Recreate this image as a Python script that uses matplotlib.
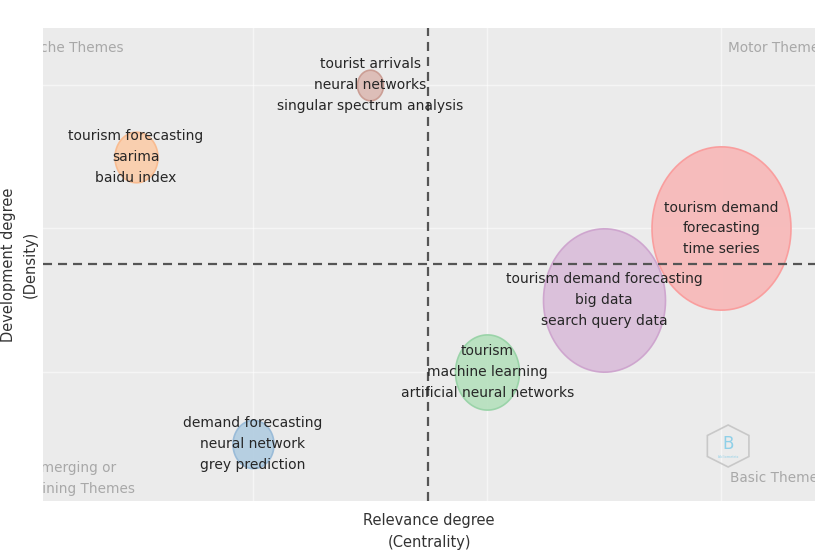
import matplotlib
matplotlib.use("Agg")
import matplotlib.pyplot as plt
from matplotlib.path import Path
from matplotlib.patches import RegularPolygon
from matplotlib.transforms import Affine2D
import numpy as np

plt.rcParams['font.family'] = ['DejaVu Sans']
plt.rcParams['lines.scale_dashes'] = False

# ---- data ----
clusters = [
    "tourism demand\nforecasting\ntime series",
    "tourism demand forecasting\nbig data\nsearch query data",
    "tourism\nmachine learning\nartificial neural networks",
    "demand forecasting\nneural network\ngrey prediction",
    "tourism forecasting\nsarima\nbaidu index",
    "tourist arrivals\nneural networks\nsingular spectrum analysis",
]
centrality = [3.0, 2.5, 2.0, 1.0, 0.5, 1.5]
density = [2.0, 1.5, 1.0, 0.5, 2.5, 3.0]
bubble_width = [139, 122, 64, 41, 43, 26]   # relative bubble size
fill_colors = ["#f8b8b8", "#dabeda", "#b6e1be", "#b2cde1", "#fbcdaa", "#dcbab4"]
edge_colors = ["#fa9a9a", "#cda2cd", "#96d2a5", "#96b9d7", "#f9b98c", "#c99a90"]
centrality_mean = 1.748
density_mean = 1.749
quadrants = ["Niche Themes", "Motor Themes", "Emerging or\nDeclining Themes", "Basic Themes"]

# ellipse marker (slightly taller than wide)
aspect = 1.175
t = np.linspace(0, 2 * np.pi, 100)
verts = np.column_stack([np.cos(t) / aspect, np.sin(t)])
ell = Path(verts, closed=True)

fig = plt.figure(figsize=(8.22, 5.51), dpi=100)
ax = fig.add_axes([43 / 822, 1 - 501 / 551, 772 / 822, 473 / 551])
ax.set_facecolor("#ebebeb")
ax.set_xlim(0.103, 3.40)
ax.set_ylim(0.101, 3.397)
ax.set_xticks([1, 2, 3])
ax.set_yticks([1, 2, 3])
ax.grid(True, color="white", lw=1.0, alpha=0.55)
ax.set_axisbelow(True)
ax.tick_params(length=0, labelbottom=False, labelleft=False)
for s in ax.spines.values():
    s.set_visible(False)

px2pt = 72 / 100
for x, y, w, fc, ec in zip(centrality, density, bubble_width, fill_colors, edge_colors):
    h = w * aspect * px2pt
    ax.scatter([x], [y], s=h ** 2, marker=ell, facecolor=fc, edgecolor=ec,
               linewidth=1.2, alpha=0.92, zorder=2)

ax.axvline(centrality_mean, color="#555555", lw=1.6, dashes=(6.5, 4.3), zorder=3)
ax.axhline(density_mean, color="#555555", lw=1.6, dashes=(6.5, 4.3), zorder=3)

for x, y, lab in zip(centrality, density, clusters):
    ax.text(x, y, lab, ha="center", va="center", multialignment="center",
            fontsize=10.0, color="#262626", linespacing=1.62, zorder=4)

qc = "#a8a8a8"
qfs = 9.8
ax.text(-0.022, 0.958, quadrants[0], transform=ax.transAxes, ha="left", va="center",
        fontsize=qfs, color=qc, clip_on=True)
ax.text(0.887, 0.958, quadrants[1], transform=ax.transAxes, ha="left", va="center",
        fontsize=qfs, color=qc, clip_on=True)
ax.text(0.040, 0.048, quadrants[2], transform=ax.transAxes, ha="center", va="center",
        multialignment="center", fontsize=qfs, color=qc, linespacing=1.6, clip_on=True)
ax.text(0.89, 0.049, quadrants[3], transform=ax.transAxes, ha="left", va="center",
        fontsize=qfs, color=qc, clip_on=True)

# logo
axw, axh = 772, 473
ax.add_patch(RegularPolygon((0, 0), numVertices=6, radius=1,
                            facecolor="none", edgecolor="#c8c8c8", lw=1.2, zorder=1,
                            transform=Affine2D().scale(24 / axw, 21 / axh).translate(0.8875, 0.1163) + ax.transAxes))
ax.text(0.8875, 0.121, "B", transform=ax.transAxes, ha="center", va="center",
        fontsize=12, color="#8fd0e8", zorder=1)
ax.text(0.8875, 0.092, "bibliometrix", transform=ax.transAxes, ha="center", va="center",
        fontsize=2.5, color="#8fd0e8", zorder=1)

ax.set_xlabel("Relevance degree\n(Centrality)", fontsize=10.5, color="#333333",
              labelpad=9, linespacing=1.55)
ax.set_ylabel("Development degree\n(Density)", fontsize=10.5, color="#333333",
              labelpad=4, linespacing=1.55)

fig.savefig("out.png", dpi=100)
